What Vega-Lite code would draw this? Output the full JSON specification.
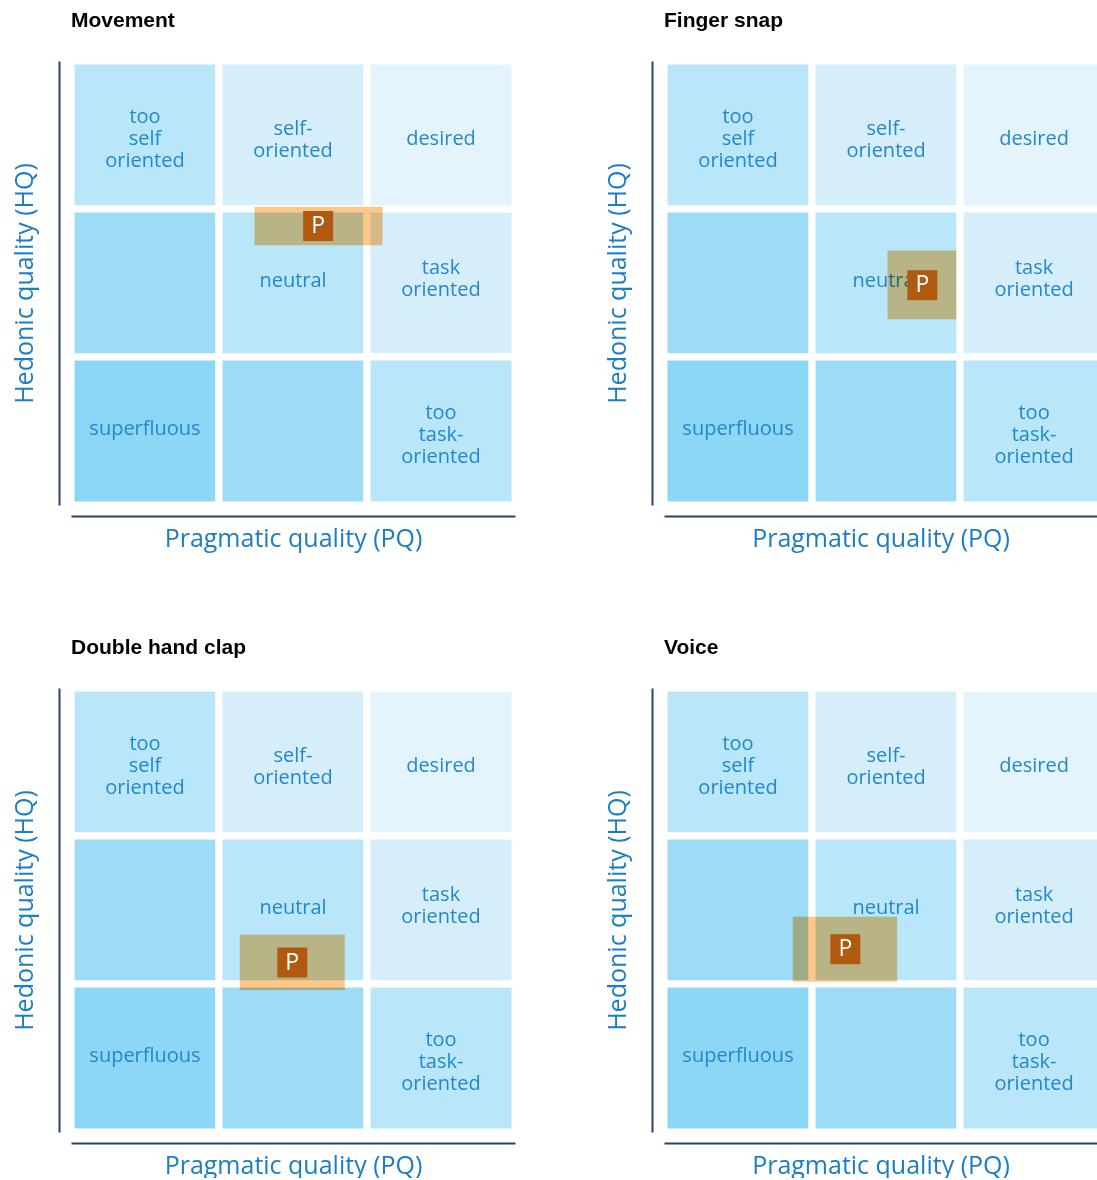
{
  "$schema": "https://vega.github.io/schema/vega-lite/v6.json",
  "padding": {"left": 12, "top": 10, "right": 0, "bottom": 0},
  "background": "white",
  "datasets": {
    "cells": [
      {"x1": -3, "x2": -1, "y1": 1, "y2": 3, "xm": -2, "ym": 1.95, "zone": 2, "label": "too\nself\noriented"},
      {"x1": -1, "x2": 1, "y1": 1, "y2": 3, "xm": 0, "ym": 1.935, "zone": 3, "label": "self-\noriented"},
      {"x1": 1, "x2": 3, "y1": 1, "y2": 3, "xm": 2, "ym": 1.95, "zone": 4, "label": "desired"},
      {"x1": -3, "x2": -1, "y1": -1, "y2": 1, "xm": -2, "ym": 0, "zone": 1, "label": ""},
      {"x1": -1, "x2": 1, "y1": -1, "y2": 1, "xm": 0, "ym": 0.027, "zone": 2, "label": "neutral"},
      {"x1": 1, "x2": 3, "y1": -1, "y2": 1, "xm": 2, "ym": 0.054, "zone": 3, "label": "task\noriented"},
      {"x1": -3, "x2": -1, "y1": -3, "y2": -1, "xm": -2, "ym": -1.973, "zone": 0, "label": "superfluous"},
      {"x1": -1, "x2": 1, "y1": -3, "y2": -1, "xm": 0, "ym": -2, "zone": 1, "label": ""},
      {"x1": 1, "x2": 3, "y1": -3, "y2": -1, "xm": 2, "ym": -2.054, "zone": 2, "label": "too\ntask-\noriented"}
    ],
    "results": [
      {"panel": "Movement", "pq_lo": -0.52, "pq_hi": 1.21, "hq_lo": 0.51, "hq_hi": 1.03, "pq": 0.34, "hq": 0.77, "mark": "P"},
      {"panel": "Finger snap", "pq_lo": 0.02, "pq_hi": 0.95, "hq_lo": -0.49, "hq_hi": 0.44, "pq": 0.49, "hq": -0.03, "mark": "P"},
      {"panel": "Double hand clap", "pq_lo": -0.72, "pq_hi": 0.70, "hq_lo": -1.08, "hq_hi": -0.33, "pq": -0.01, "hq": -0.71, "mark": "P"},
      {"panel": "Voice", "pq_lo": -1.26, "pq_hi": 0.15, "hq_lo": -0.97, "hq_hi": -0.09, "pq": -0.55, "hq": -0.53, "mark": "P"}
    ]
  },
  "config": {
    "view": {"stroke": null},
    "axis": {
      "domain": true, "domainColor": "#2B3F6B", "domainWidth": 2,
      "ticks": false, "labels": false, "grid": false,
      "titleColor": "#1B7DC5", "titleFont": "Open Sans", "titleFontSize": 25, "titleFontWeight": "normal"
    },
    "axisX": {"offset": 11, "titlePadding": 10},
    "axisY": {"offset": 12, "titlePadding": 22},
    "title": {"font": "Liberation Sans", "fontSize": 21, "fontWeight": "bold", "color": "black", "anchor": "start", "frame": "group", "offset": 30},
    "text": {"font": "Open Sans", "fontSize": 20, "color": "#2388CC", "lineBreak": "\n", "lineHeight": 22, "baseline": "middle", "align": "center"}
  },
  "columns": 2,
  "spacing": {"row": 183, "column": 149},
  "bounds": "flush",
  "concat": [
    {
      "title": "Movement",
      "width": 444, "height": 444,
      "layer": [
        {"data": {"name": "cells"}, "mark": {"type": "rect", "stroke": "white", "strokeWidth": 7, "clip": true},
         "encoding": {
           "x": {"field": "x1", "type": "quantitative", "scale": {"domain": [-3, 3], "nice": false, "zero": false}, "title": "Pragmatic quality (PQ)"},
           "x2": {"field": "x2"},
           "y": {"field": "y1", "type": "quantitative", "scale": {"domain": [-3, 3], "nice": false, "zero": false}, "title": "Hedonic quality (HQ)"},
           "y2": {"field": "y2"},
           "color": {"field": "zone", "type": "ordinal", "scale": {"domain": [0, 1, 2, 3, 4], "range": ["#8CD6F6", "#9EDBF6", "#B9E6F8", "#D5EEFA", "#E4F4FC"]}, "legend": null}
         }},
        {"data": {"name": "cells"}, "transform": [{"filter": "split(datum.label, '\\n').length === 1"}], "mark": {"type": "text"},
         "encoding": {"x": {"field": "xm", "type": "quantitative"}, "y": {"field": "ym", "type": "quantitative"}, "text": {"field": "label"}}},
        {"data": {"name": "cells"}, "transform": [{"filter": "split(datum.label, '\\n').length === 2"}], "mark": {"type": "text", "dy": -11},
         "encoding": {"x": {"field": "xm", "type": "quantitative"}, "y": {"field": "ym", "type": "quantitative"}, "text": {"field": "label"}}},
        {"data": {"name": "cells"}, "transform": [{"filter": "split(datum.label, '\\n').length === 3"}], "mark": {"type": "text", "dy": -22},
         "encoding": {"x": {"field": "xm", "type": "quantitative"}, "y": {"field": "ym", "type": "quantitative"}, "text": {"field": "label"}}},
        {"data": {"name": "results"}, "transform": [{"filter": "datum.panel === 'Movement'"}],
         "mark": {"type": "rect", "color": "#FFC88A", "opacity": 1, "blend": "multiply"},
         "encoding": {"x": {"field": "pq_lo", "type": "quantitative"}, "x2": {"field": "pq_hi"}, "y": {"field": "hq_lo", "type": "quantitative"}, "y2": {"field": "hq_hi"}}},
        {"data": {"name": "results"}, "transform": [{"filter": "datum.panel === 'Movement'"}],
         "mark": {"type": "point", "shape": "square", "filled": true, "size": 900, "color": "#B05A10", "opacity": 1},
         "encoding": {"x": {"field": "pq", "type": "quantitative"}, "y": {"field": "hq", "type": "quantitative"}}},
        {"data": {"name": "results"}, "transform": [{"filter": "datum.panel === 'Movement'"}],
         "mark": {"type": "text", "fontSize": 23, "color": "white"},
         "encoding": {"x": {"field": "pq", "type": "quantitative"}, "y": {"field": "hq", "type": "quantitative"}, "text": {"field": "mark"}}}
      ]
    },
    {
      "title": "Finger snap",
      "width": 433, "height": 444,
      "layer": [
        {"data": {"name": "cells"}, "mark": {"type": "rect", "stroke": "white", "strokeWidth": 7, "clip": true},
         "encoding": {
           "x": {"field": "x1", "type": "quantitative", "scale": {"domain": [-3, 2.85], "nice": false, "zero": false}, "title": "Pragmatic quality (PQ)"},
           "x2": {"field": "x2"},
           "y": {"field": "y1", "type": "quantitative", "scale": {"domain": [-3, 3], "nice": false, "zero": false}, "title": "Hedonic quality (HQ)"},
           "y2": {"field": "y2"},
           "color": {"field": "zone", "type": "ordinal", "scale": {"domain": [0, 1, 2, 3, 4], "range": ["#8CD6F6", "#9EDBF6", "#B9E6F8", "#D5EEFA", "#E4F4FC"]}, "legend": null}
         }},
        {"data": {"name": "cells"}, "transform": [{"filter": "split(datum.label, '\\n').length === 1"}], "mark": {"type": "text"},
         "encoding": {"x": {"field": "xm", "type": "quantitative"}, "y": {"field": "ym", "type": "quantitative"}, "text": {"field": "label"}}},
        {"data": {"name": "cells"}, "transform": [{"filter": "split(datum.label, '\\n').length === 2"}], "mark": {"type": "text", "dy": -11},
         "encoding": {"x": {"field": "xm", "type": "quantitative"}, "y": {"field": "ym", "type": "quantitative"}, "text": {"field": "label"}}},
        {"data": {"name": "cells"}, "transform": [{"filter": "split(datum.label, '\\n').length === 3"}], "mark": {"type": "text", "dy": -22},
         "encoding": {"x": {"field": "xm", "type": "quantitative"}, "y": {"field": "ym", "type": "quantitative"}, "text": {"field": "label"}}},
        {"data": {"name": "results"}, "transform": [{"filter": "datum.panel === 'Finger snap'"}],
         "mark": {"type": "rect", "color": "#FFC88A", "opacity": 1, "blend": "multiply"},
         "encoding": {"x": {"field": "pq_lo", "type": "quantitative"}, "x2": {"field": "pq_hi"}, "y": {"field": "hq_lo", "type": "quantitative"}, "y2": {"field": "hq_hi"}}},
        {"data": {"name": "results"}, "transform": [{"filter": "datum.panel === 'Finger snap'"}],
         "mark": {"type": "point", "shape": "square", "filled": true, "size": 900, "color": "#B05A10", "opacity": 1},
         "encoding": {"x": {"field": "pq", "type": "quantitative"}, "y": {"field": "hq", "type": "quantitative"}}},
        {"data": {"name": "results"}, "transform": [{"filter": "datum.panel === 'Finger snap'"}],
         "mark": {"type": "text", "fontSize": 23, "color": "white"},
         "encoding": {"x": {"field": "pq", "type": "quantitative"}, "y": {"field": "hq", "type": "quantitative"}, "text": {"field": "mark"}}}
      ]
    },
    {
      "title": "Double hand clap",
      "width": 444, "height": 444,
      "layer": [
        {"data": {"name": "cells"}, "mark": {"type": "rect", "stroke": "white", "strokeWidth": 7, "clip": true},
         "encoding": {
           "x": {"field": "x1", "type": "quantitative", "scale": {"domain": [-3, 3], "nice": false, "zero": false}, "title": "Pragmatic quality (PQ)"},
           "x2": {"field": "x2"},
           "y": {"field": "y1", "type": "quantitative", "scale": {"domain": [-3, 3], "nice": false, "zero": false}, "title": "Hedonic quality (HQ)"},
           "y2": {"field": "y2"},
           "color": {"field": "zone", "type": "ordinal", "scale": {"domain": [0, 1, 2, 3, 4], "range": ["#8CD6F6", "#9EDBF6", "#B9E6F8", "#D5EEFA", "#E4F4FC"]}, "legend": null}
         }},
        {"data": {"name": "cells"}, "transform": [{"filter": "split(datum.label, '\\n').length === 1"}], "mark": {"type": "text"},
         "encoding": {"x": {"field": "xm", "type": "quantitative"}, "y": {"field": "ym", "type": "quantitative"}, "text": {"field": "label"}}},
        {"data": {"name": "cells"}, "transform": [{"filter": "split(datum.label, '\\n').length === 2"}], "mark": {"type": "text", "dy": -11},
         "encoding": {"x": {"field": "xm", "type": "quantitative"}, "y": {"field": "ym", "type": "quantitative"}, "text": {"field": "label"}}},
        {"data": {"name": "cells"}, "transform": [{"filter": "split(datum.label, '\\n').length === 3"}], "mark": {"type": "text", "dy": -22},
         "encoding": {"x": {"field": "xm", "type": "quantitative"}, "y": {"field": "ym", "type": "quantitative"}, "text": {"field": "label"}}},
        {"data": {"name": "results"}, "transform": [{"filter": "datum.panel === 'Double hand clap'"}],
         "mark": {"type": "rect", "color": "#FFC88A", "opacity": 1, "blend": "multiply"},
         "encoding": {"x": {"field": "pq_lo", "type": "quantitative"}, "x2": {"field": "pq_hi"}, "y": {"field": "hq_lo", "type": "quantitative"}, "y2": {"field": "hq_hi"}}},
        {"data": {"name": "results"}, "transform": [{"filter": "datum.panel === 'Double hand clap'"}],
         "mark": {"type": "point", "shape": "square", "filled": true, "size": 900, "color": "#B05A10", "opacity": 1},
         "encoding": {"x": {"field": "pq", "type": "quantitative"}, "y": {"field": "hq", "type": "quantitative"}}},
        {"data": {"name": "results"}, "transform": [{"filter": "datum.panel === 'Double hand clap'"}],
         "mark": {"type": "text", "fontSize": 23, "color": "white"},
         "encoding": {"x": {"field": "pq", "type": "quantitative"}, "y": {"field": "hq", "type": "quantitative"}, "text": {"field": "mark"}}}
      ]
    },
    {
      "title": "Voice",
      "width": 433, "height": 444,
      "layer": [
        {"data": {"name": "cells"}, "mark": {"type": "rect", "stroke": "white", "strokeWidth": 7, "clip": true},
         "encoding": {
           "x": {"field": "x1", "type": "quantitative", "scale": {"domain": [-3, 2.85], "nice": false, "zero": false}, "title": "Pragmatic quality (PQ)"},
           "x2": {"field": "x2"},
           "y": {"field": "y1", "type": "quantitative", "scale": {"domain": [-3, 3], "nice": false, "zero": false}, "title": "Hedonic quality (HQ)"},
           "y2": {"field": "y2"},
           "color": {"field": "zone", "type": "ordinal", "scale": {"domain": [0, 1, 2, 3, 4], "range": ["#8CD6F6", "#9EDBF6", "#B9E6F8", "#D5EEFA", "#E4F4FC"]}, "legend": null}
         }},
        {"data": {"name": "cells"}, "transform": [{"filter": "split(datum.label, '\\n').length === 1"}], "mark": {"type": "text"},
         "encoding": {"x": {"field": "xm", "type": "quantitative"}, "y": {"field": "ym", "type": "quantitative"}, "text": {"field": "label"}}},
        {"data": {"name": "cells"}, "transform": [{"filter": "split(datum.label, '\\n').length === 2"}], "mark": {"type": "text", "dy": -11},
         "encoding": {"x": {"field": "xm", "type": "quantitative"}, "y": {"field": "ym", "type": "quantitative"}, "text": {"field": "label"}}},
        {"data": {"name": "cells"}, "transform": [{"filter": "split(datum.label, '\\n').length === 3"}], "mark": {"type": "text", "dy": -22},
         "encoding": {"x": {"field": "xm", "type": "quantitative"}, "y": {"field": "ym", "type": "quantitative"}, "text": {"field": "label"}}},
        {"data": {"name": "results"}, "transform": [{"filter": "datum.panel === 'Voice'"}],
         "mark": {"type": "rect", "color": "#FFC88A", "opacity": 1, "blend": "multiply"},
         "encoding": {"x": {"field": "pq_lo", "type": "quantitative"}, "x2": {"field": "pq_hi"}, "y": {"field": "hq_lo", "type": "quantitative"}, "y2": {"field": "hq_hi"}}},
        {"data": {"name": "results"}, "transform": [{"filter": "datum.panel === 'Voice'"}],
         "mark": {"type": "point", "shape": "square", "filled": true, "size": 900, "color": "#B05A10", "opacity": 1},
         "encoding": {"x": {"field": "pq", "type": "quantitative"}, "y": {"field": "hq", "type": "quantitative"}}},
        {"data": {"name": "results"}, "transform": [{"filter": "datum.panel === 'Voice'"}],
         "mark": {"type": "text", "fontSize": 23, "color": "white"},
         "encoding": {"x": {"field": "pq", "type": "quantitative"}, "y": {"field": "hq", "type": "quantitative"}, "text": {"field": "mark"}}}
      ]
    }
  ]
}
